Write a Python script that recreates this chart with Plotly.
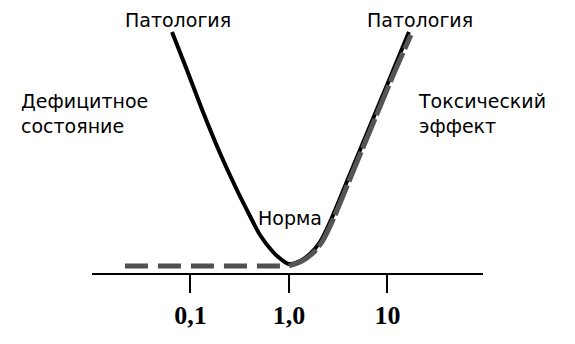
import plotly.graph_objects as go

# ---- data (dose on log axis, response height) ----
curve_dose = [0.0649, 0.0920, 0.134, 0.199, 0.296, 0.402, 0.508, 0.689, 0.849, 1.0,
              1.293, 1.634, 2.064, 2.608, 4.163, 6.643, 10.60, 16.53]
curve_resp = [24.1, 20.3, 16.1, 12.0, 8.3, 5.7, 3.8, 2.1, 1.3, 0.9,
              1.2, 1.9, 3.1, 5.1, 9.9, 14.7, 19.5, 24.1]

flat_dose = [0.0216, 1.0]
flat_resp = [0.7, 0.7]

tox_dose = [1.0, 1.355, 1.712, 2.163, 2.733, 4.363, 6.962, 11.11, 17.3]
tox_resp = [0.7, 1.2, 1.9, 3.1, 5.1, 9.9, 14.7, 19.5, 23.8]

tick_vals = [0.1, 1, 10]
tick_text = ["0,1", "1,0", "10"]

labels = ["Патология", "Патология", "Дефицитное<br>состояние",
          "Токсический<br>эффект", "Норма"]

# page is shown with an 8px body margin
OFF = 8
W, H = 567, 336
L, R, T, B = 84, 92, 0, 71
PW, PH = W - L - R, H - T - B


def px(x):
    return (x - OFF - L) / PW


def py(y):
    return (H - B - (y - OFF)) / PH


SERIF = "Liberation Serif"
TEXT_FONT = "DejaVu Sans"

fig = go.Figure()
fig.add_trace(go.Scatter(x=curve_dose, y=curve_resp, mode="lines",
                         line=dict(color="black", width=4, shape="spline", smoothing=0.8),
                         hoverinfo="skip"))
fig.add_trace(go.Scatter(x=flat_dose, y=flat_resp, mode="lines",
                         line=dict(color="#505050", width=5, dash="23px,10px"),
                         hoverinfo="skip"))
fig.add_trace(go.Scatter(x=tox_dose, y=tox_resp, mode="lines",
                         line=dict(color="#555555", width=5, dash="32px,4px",
                                   shape="spline", smoothing=0.8),
                         hoverinfo="skip"))

ann_pos = [
    (178, 8, "center", "top"),
    (420, 8, "center", "top"),
    (20, 113, "left", "middle"),
    (417, 113, "left", "middle"),
    (290, 218, "center", "middle"),
]
for txt, (x, y, anc, vanc) in zip(labels, ann_pos):
    fig.add_annotation(text=txt, x=px(x), y=py(y), xref="paper", yref="paper",
                       xanchor=anc, yanchor=vanc, align="left",
                       showarrow=False, borderpad=0,
                       font=dict(family=TEXT_FONT, size=19, color="black"))

fig.update_layout(
    width=W, height=H,
    margin=dict(l=L, r=R, t=T, b=B),
    paper_bgcolor="white", plot_bgcolor="white",
    showlegend=False,
    xaxis=dict(type="log", range=[-2, 1.97],
               tickvals=tick_vals, ticktext=tick_text,
               ticks="outside", ticklen=18, tickwidth=2, tickcolor="black",
               showline=True, linecolor="black", linewidth=2,
               showgrid=False, zeroline=False,
               tickfont=dict(family=SERIF, size=26, color="black", weight="bold")),
    yaxis=dict(range=[0, 26.5], visible=False, showgrid=False),
)

fig.write_html("out.html")
